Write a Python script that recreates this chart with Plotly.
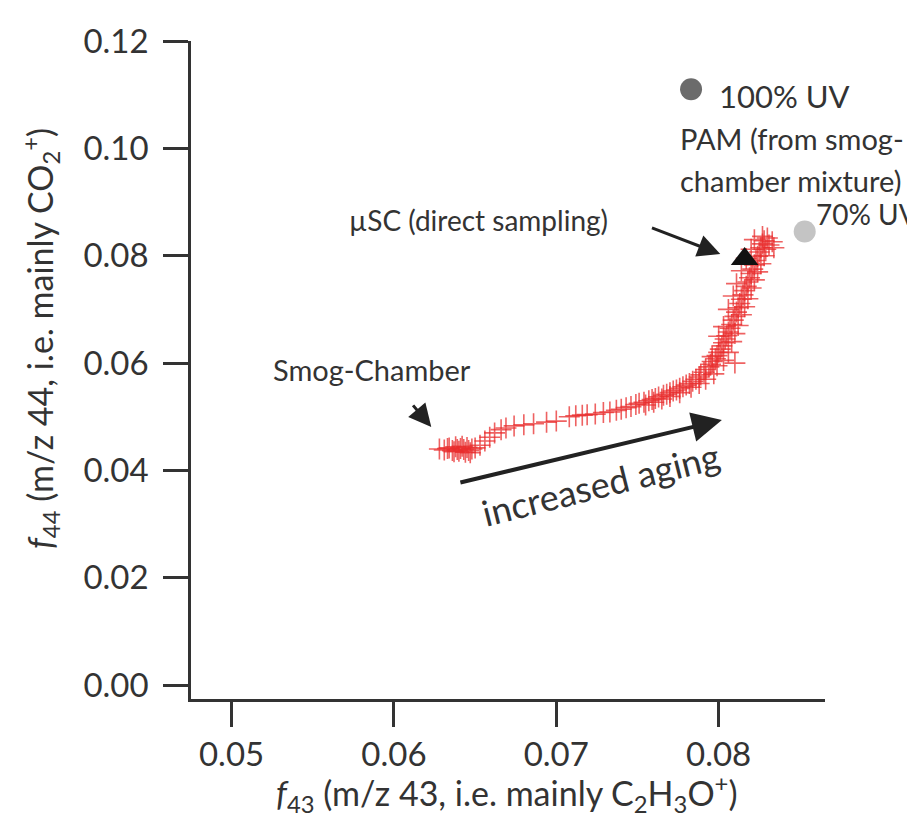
import plotly.graph_objects as go

# Smog-chamber trajectory (f43, f44)
smog_f43 = [0.0628, 0.0631, 0.0634, 0.0636, 0.0638, 0.0640, 0.0641, 0.0643, 0.0644, 0.0645,
            0.0646, 0.0648, 0.0637, 0.0642, 0.0639, 0.0633, 0.0647, 0.0650,
            0.0653, 0.0656, 0.0659, 0.0662, 0.0666, 0.0669, 0.0674, 0.0680, 0.0686, 0.0694,
            0.0700, 0.0708, 0.0712, 0.0716, 0.0719, 0.0724, 0.0729, 0.0733, 0.0737, 0.0740,
            0.0743, 0.0746, 0.0749, 0.0751, 0.0754, 0.0757, 0.0759, 0.0761, 0.0763, 0.0766,
            0.0768, 0.0770, 0.0772, 0.0774, 0.0776, 0.0778, 0.0780, 0.0782, 0.0784, 0.0786,
            0.0788, 0.0789, 0.0791, 0.0792, 0.0794, 0.0795, 0.0796, 0.0798, 0.0799, 0.0800,
            0.0801, 0.0802, 0.0803, 0.0804, 0.0805, 0.0806, 0.0807, 0.0808, 0.0809, 0.0810,
            0.0811, 0.0812, 0.0813, 0.0814, 0.0815, 0.0816, 0.0817, 0.0818, 0.0819, 0.0820,
            0.0821, 0.0822, 0.0823, 0.0824, 0.0825, 0.0826, 0.0827, 0.0828, 0.0830,
            0.0788, 0.0792, 0.0797, 0.0799, 0.0803, 0.0806, 0.0808, 0.0810, 0.0812, 0.0814,
            0.0816, 0.0818, 0.0820, 0.0822, 0.0824, 0.0826, 0.0828, 0.0829, 0.0831, 0.0833,
            0.0827, 0.0822, 0.0834, 0.0810, 0.0796, 0.0800, 0.0803, 0.0806, 0.0809, 0.0811,
            0.0814, 0.0817, 0.0820, 0.0783, 0.0776, 0.0770, 0.0765, 0.0760, 0.0755]
smog_f44 = [0.0440, 0.0438, 0.0442, 0.0437, 0.0444, 0.0436, 0.0441, 0.0439, 0.0434, 0.0443,
            0.0437, 0.0440, 0.0435, 0.0445, 0.0439, 0.0441, 0.0433, 0.0442,
            0.0447, 0.0455, 0.0462, 0.0470, 0.0476, 0.0479, 0.0483, 0.0485, 0.0487, 0.0490,
            0.0492, 0.0500, 0.0502, 0.0503, 0.0504, 0.0505, 0.0508, 0.0509, 0.0512, 0.0514,
            0.0517, 0.0519, 0.0523, 0.0525, 0.0527, 0.0530, 0.0532, 0.0534, 0.0537, 0.0540,
            0.0542, 0.0545, 0.0548, 0.0550, 0.0553, 0.0556, 0.0559, 0.0562, 0.0566, 0.0570,
            0.0574, 0.0578, 0.0583, 0.0588, 0.0593, 0.0598, 0.0603, 0.0608, 0.0614, 0.0620,
            0.0626, 0.0632, 0.0638, 0.0645, 0.0651, 0.0658, 0.0665, 0.0672, 0.0680, 0.0687,
            0.0695, 0.0703, 0.0711, 0.0719, 0.0727, 0.0735, 0.0743, 0.0751, 0.0759, 0.0767,
            0.0775, 0.0783, 0.0791, 0.0799, 0.0807, 0.0815, 0.0822, 0.0828, 0.0833,
            0.0562, 0.0570, 0.0580, 0.0595, 0.0605, 0.0620, 0.0640, 0.0655, 0.0670, 0.0690,
            0.0705, 0.0720, 0.0740, 0.0755, 0.0770, 0.0785, 0.0800, 0.0812, 0.0820, 0.0826,
            0.0836, 0.0830, 0.0815, 0.0600, 0.0612, 0.0650, 0.0668, 0.0700, 0.0725, 0.0748,
            0.0772, 0.0795, 0.0812, 0.0555, 0.0545, 0.0538, 0.0533, 0.0527, 0.0522]

# Single points
pam100_f43 = [0.0783]
pam100_f44 = [0.1110]
pam70_f43 = [0.0853]
pam70_f44 = [0.0845]
usc_f43 = [0.0816]
usc_f44 = [0.0794]

x_ticks = [0.05, 0.06, 0.07, 0.08]
y_ticks = [0.00, 0.02, 0.04, 0.06, 0.08, 0.10, 0.12]

FONT = "Lato"
TXT = "#333333"

fig = go.Figure()
fig.add_trace(go.Scatter(
    x=smog_f43, y=smog_f44, mode="markers",
    marker=dict(symbol="cross-thin", size=15,
                line=dict(color="rgba(232,45,45,0.75)", width=1.6)),
    showlegend=False, cliponaxis=False))
fig.add_trace(go.Scatter(
    x=pam100_f43, y=pam100_f44, mode="markers",
    marker=dict(symbol="circle", size=22, color="#6b6b6b"),
    showlegend=False, cliponaxis=False))
fig.add_trace(go.Scatter(
    x=pam70_f43, y=pam70_f44, mode="markers",
    marker=dict(symbol="circle", size=22, color="#c4c4c4"),
    showlegend=False, cliponaxis=False))
fig.add_trace(go.Scatter(
    x=usc_f43, y=usc_f44, mode="markers",
    marker=dict(symbol="triangle-up", size=24, color="#111111"),
    showlegend=False, cliponaxis=False))

ann = []
def text(x, y, s, size=28, **kw):
    d = dict(x=x, y=y, xref="x", yref="y", text=s, showarrow=False,
             xanchor="left", yanchor="middle",
             font=dict(family=FONT, size=size, color=TXT))
    d.update(kw)
    ann.append(d)

text(0.0799, 0.1097, "100% UV", size=31)
text(0.07751, 0.1018, "PAM (from smog-", size=29)
text(0.07751, 0.0941, "chamber mixture)", size=29)
text(0.0859, 0.0877, "70% UV", size=28)
text(0.0571, 0.0867, "µSC (direct sampling)", size=28)
text(0.0524, 0.0588, "Smog-Chamber", size=29)
text(0.0727, 0.0375, "increased aging", size=36, xanchor="center", textangle=-14)

def arrow(x0, y0, x1, y1, width=3, size=1.0):
    ann.append(dict(x=x1, y=y1, ax=x0, ay=y0, xref="x", yref="y",
                    axref="x", ayref="y", text="", showarrow=True,
                    arrowhead=2, arrowsize=size, arrowwidth=width,
                    arrowcolor="#222222"))

arrow(0.0611, 0.0524, 0.0623, 0.0481, size=1.5)
arrow(0.0758, 0.0853, 0.0801, 0.0803, size=1.5)
arrow(0.0640, 0.0377, 0.0802, 0.0494, width=4, size=1.5)

# Axis titles
ann.append(dict(xref="paper", yref="paper", x=0.497, y=0, yshift=-94,
                xanchor="center", yanchor="middle", showarrow=False,
                text="<i>f</i><sub>43</sub> (m/z 43, i.e. mainly C<sub>2</sub>H<sub>3</sub>O<sup>+</sup>)",
                font=dict(family=FONT, size=34, color=TXT)))
ann.append(dict(xref="paper", yref="paper", x=0, xshift=-151, y=0.547,
                xanchor="center", yanchor="middle", showarrow=False, textangle=-90,
                text="<i>f</i><sub>44</sub> (m/z 44, i.e. mainly CO<sub>2</sub><sup>+</sup>)",
                font=dict(family=FONT, size=34, color=TXT)))

axis_common = dict(showgrid=False, zeroline=False, showline=True,
                   linecolor="#333333", linewidth=2.5, ticks="outside",
                   ticklen=25, tickwidth=2.5, tickcolor="#333333",
                   ticklabeloverflow="allow",
                   tickfont=dict(family=FONT, size=33, color=TXT))

# The page body adds an 8 px offset, so the figure is 8 px smaller on each axis
fig.update_layout(
    width=907, height=809,
    margin=dict(l=183, r=90, t=16, b=118),
    plot_bgcolor="white", paper_bgcolor="white",
    annotations=ann,
    xaxis=dict(range=[0.0475, 0.08655], tickvals=x_ticks,
               ticktext=[f"{v:.2f}" for v in x_ticks], ticklabelstandoff=0,
               **axis_common),
    yaxis=dict(range=[-0.00257, 0.12], tickvals=y_ticks,
               ticktext=[f"{v:.2f}" for v in y_ticks], ticklabelstandoff=8,
               **axis_common),
)

fig.write_html("out.html")
